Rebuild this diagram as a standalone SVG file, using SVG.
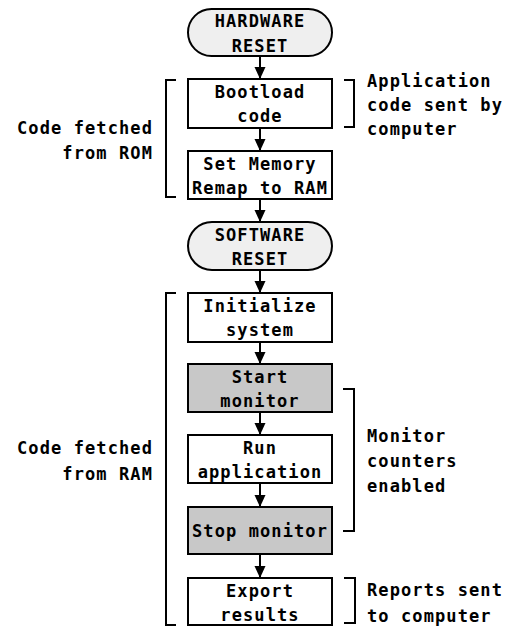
<svg xmlns="http://www.w3.org/2000/svg" width="510" height="627" viewBox="0 0 510 627">
<style>
text{font-family:"DejaVu Sans Mono","Liberation Mono",monospace;font-weight:bold;font-size:17px;letter-spacing:1.1px;fill:#000}
.c{text-anchor:middle}
.r{text-anchor:end}
.box{fill:#fff;stroke:#000;stroke-width:2}
.term{fill:#efefef;stroke:#000;stroke-width:2}
.gray{fill:#c8c8c8;stroke:#000;stroke-width:2}
.br{fill:none;stroke:#000;stroke-width:2}
.conn{stroke:#000;stroke-width:2;fill:none}
</style>
<defs>
<marker id="ah" markerUnits="userSpaceOnUse" markerWidth="12" markerHeight="12" viewBox="0 0 12 12" refX="12" refY="6" orient="auto">
<path d="M0,0.5 L12,6 L0,11.5 Z" fill="#000"/>
</marker>
</defs>
<rect width="510" height="627" fill="#fff"/>
<g id="connectors">
<line class="conn" x1="260" y1="57" x2="260" y2="79" marker-end="url(#ah)"/>
<line class="conn" x1="260" y1="128" x2="260" y2="151" marker-end="url(#ah)"/>
<line class="conn" x1="260" y1="199" x2="260" y2="222" marker-end="url(#ah)"/>
<line class="conn" x1="260" y1="270" x2="260" y2="293" marker-end="url(#ah)"/>
<line class="conn" x1="260" y1="342" x2="260" y2="364" marker-end="url(#ah)"/>
<line class="conn" x1="260" y1="412" x2="260" y2="435" marker-end="url(#ah)"/>
<line class="conn" x1="260" y1="483" x2="260" y2="507" marker-end="url(#ah)"/>
<line class="conn" x1="260" y1="554" x2="260" y2="578" marker-end="url(#ah)"/>
</g>
<g id="hardware-reset">
<rect class="term" x="188" y="9" width="144" height="47" rx="23.5"/>
<text class="c" x="260" y="27">HARDWARE</text>
<text class="c" x="260" y="52">RESET</text>
</g>
<g id="bootload">
<rect class="box" x="188" y="79" width="144" height="49"/>
<text class="c" x="260" y="98">Bootload</text>
<text class="c" x="260" y="122">code</text>
</g>
<g id="remap">
<rect class="box" x="188" y="151" width="144" height="48"/>
<text class="c" x="260" y="170">Set Memory</text>
<text class="c" x="260" y="194">Remap to RAM</text>
</g>
<g id="software-reset">
<rect class="term" x="188" y="222" width="144" height="48" rx="24"/>
<text class="c" x="260" y="241">SOFTWARE</text>
<text class="c" x="260" y="265">RESET</text>
</g>
<g id="initialize">
<rect class="box" x="188" y="293" width="144" height="49"/>
<text class="c" x="260" y="312">Initialize</text>
<text class="c" x="260" y="336">system</text>
</g>
<g id="start-monitor">
<rect class="gray" x="188" y="364" width="144" height="48"/>
<text class="c" x="260" y="383">Start</text>
<text class="c" x="260" y="407">monitor</text>
</g>
<g id="run-application">
<rect class="box" x="188" y="435" width="144" height="48"/>
<text class="c" x="260" y="454">Run</text>
<text class="c" x="260" y="478">application</text>
</g>
<g id="stop-monitor">
<rect class="gray" x="188" y="507" width="144" height="47"/>
<text class="c" x="260" y="537">Stop monitor</text>
</g>
<g id="export-results">
<rect class="box" x="188" y="578" width="144" height="47"/>
<text class="c" x="260" y="597">Export</text>
<text class="c" x="260" y="621">results</text>
</g>
<g id="rom-label">
<path class="br" d="M176,80 H166 V197 H176"/>
<text class="r" x="153" y="134">Code fetched</text>
<text class="r" x="153" y="159">from ROM</text>
</g>
<g id="ram-label">
<path class="br" d="M176,293 H166 V625 H176"/>
<text class="r" x="153" y="454">Code fetched</text>
<text class="r" x="153" y="480">from RAM</text>
</g>
<g id="app-label">
<path class="br" d="M344,80 H354 V127 H344"/>
<text x="367" y="87">Application</text>
<text x="367" y="111">code sent by</text>
<text x="367" y="135">computer</text>
</g>
<g id="monitor-label">
<path class="br" d="M343,389 H354 V531 H343"/>
<text x="367" y="442">Monitor</text>
<text x="367" y="467">counters</text>
<text x="367" y="492">enabled</text>
</g>
<g id="reports-label">
<path class="br" d="M344,578 H355 V623 H344"/>
<text x="367" y="596">Reports sent</text>
<text x="367" y="622">to computer</text>
</g>
</svg>
